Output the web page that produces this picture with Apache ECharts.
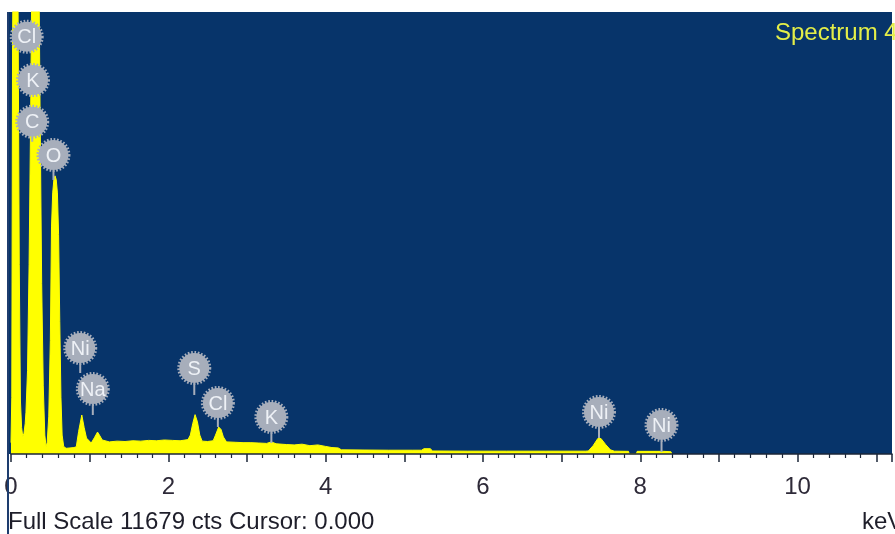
<!DOCTYPE html>
<html>
<head>
<meta charset="utf-8">
<script src="https://cdn.jsdelivr.net/npm/echarts@6/dist/echarts.min.js"></script>
<style>
  html, body { margin: 0; padding: 0; background: #ffffff; }
  #chart { width: 895px; height: 534px; }
</style>
</head>
<body>
<div id="chart"></div>
<script>
// EDS spectrum: energy (keV) and counts
const energyKeV = [
  0.00, 0.01, 0.02, 0.03, 0.045, 0.06, 0.075, 0.09, 0.105, 0.12, 0.135, 0.15, 0.165,
  0.18, 0.19, 0.21, 0.23, 0.25, 0.27, 0.29, 0.31, 0.33, 0.35, 0.37, 0.39, 0.41, 0.43, 0.446,
  0.46, 0.48, 0.50, 0.515, 0.53, 0.545, 0.56, 0.575, 0.59, 0.605, 0.62, 0.635, 0.65, 0.67,
  0.70, 0.75, 0.80, 0.83, 0.86, 0.90, 0.93, 0.96, 1.02, 1.06, 1.10, 1.13, 1.16, 1.25,
  1.35, 1.45, 1.55, 1.65, 1.75, 1.85, 1.95, 2.05, 2.15, 2.25,
  2.28, 2.31, 2.34, 2.37, 2.40, 2.43, 2.50, 2.57,
  2.60, 2.64, 2.67, 2.70, 2.74, 2.85, 2.95, 3.05, 3.15, 3.25, 3.31, 3.37,
  3.50, 3.60, 3.70, 3.80, 3.90, 4.00, 4.08, 4.16, 4.20, 4.50, 4.80, 5.10, 5.22, 5.25, 5.33, 5.36,
  5.80, 6.30, 6.80, 7.30, 7.34, 7.40, 7.46, 7.50, 7.56, 7.62, 7.67, 7.85, 7.86, 7.95, 7.96,
  8.30, 8.39, 8.40
];
const counts = [
  300, 1500, 11000, 13500, 16000, 17000, 15000, 11700, 5000, 1400, 700, 450, 550,
  800, 1100, 2200, 5000, 9000, 14000, 18000, 20000, 18000, 14000, 9000, 4500, 1800, 500, 190,
  300, 1000, 3000, 6000, 6900, 7250, 7350, 7250, 6900, 5800, 3500, 1500, 500, 200,
  150, 160, 170, 190, 600, 1030, 700, 420, 290, 430, 580, 480, 370, 320,
  340, 330, 350, 340, 360, 350, 370, 360, 350, 380,
  500, 800, 1040, 850, 500, 340, 330, 350,
  500, 713, 650, 450, 320, 310, 300, 300, 290, 280, 320, 270,
  250, 240, 260, 220, 240, 200, 170, 160, 110, 105, 100, 100, 100, 140, 140, 80,
  75, 75, 75, 75, 80, 220, 410, 410, 250, 110, 75, 70, 0, 0, 70,
  70, 60, 0
];

// Element line markers: energy, badge height and stem end (counts)
const markerNames = ['Cl', 'K', 'C', 'O', 'Ni', 'Na', 'S', 'Cl', 'K', 'Ni', 'Ni'];
const markerKeV = [0.20, 0.28, 0.27, 0.54, 0.88, 1.04, 2.33, 2.63, 3.31, 7.475, 8.27];
const markerBadgeCts = [11025, 9881, 8779, 7900, 2800, 1717, 2272, 1347, 978, 1110, 766];
const markerStemCts = [11025, 9881, 8250, 7240, 2140, 1030, 1559, 713, 290, 423, 53];

const xTickLabels = [0, 2, 4, 6, 8, 10];
const fullScaleCts = 11679;

const BG_BLUE = '#07346a';
const PEAK_YELLOW = '#ffff00';
const BADGE_GREY = '#a7aebb';
const FONT = 'Arial, "Liberation Sans", sans-serif';

const spectrum = energyKeV.map((e, i) => [e, counts[i]]);
const markers = markerKeV.map((e, i) => [e, markerBadgeCts[i], markerStemCts[i]]);

const chart = echarts.init(document.getElementById('chart'), null, { renderer: 'canvas' });

chart.setOption({
  backgroundColor: '#ffffff',
  animation: false,
  grid: {
    show: true,
    left: 11,
    top: 12,
    width: 896,
    height: 442,
    backgroundColor: BG_BLUE,
    borderWidth: 0
  },
  xAxis: {
    type: 'value',
    min: 0,
    max: 11.2,
    interval: 1,
    z: 5,
    axisLine: { show: true, onZero: false, lineStyle: { color: '#1b2638', width: 1.5 } },
    axisTick: { show: true, length: 8, lineStyle: { color: '#1b2638', width: 1.5 } },
    minorTick: { show: true, splitNumber: 5, length: 4, lineStyle: { color: '#1b2638', width: 1.2 } },
    splitLine: { show: false },
    axisLabel: {
      margin: 21,
      fontFamily: FONT,
      fontSize: 24,
      color: '#2e2a38',
      formatter: v => (xTickLabels.indexOf(v) >= 0 ? String(v) : '')
    }
  },
  yAxis: {
    type: 'value',
    min: 0,
    max: fullScaleCts,
    show: false
  },
  series: [
    {
      type: 'line',
      data: spectrum,
      showSymbol: false,
      smooth: false,
      clip: true,
      z: 2,
      lineStyle: { color: PEAK_YELLOW, width: 1 },
      areaStyle: { color: PEAK_YELLOW, opacity: 1 }
    },
    {
      type: 'custom',
      z: 10,
      data: markers,
      renderItem: function (params, api) {
        const c = api.coord([api.value(0), api.value(1)]);
        const s = api.coord([api.value(0), api.value(2)]);
        const r = 15;
        const children = [];
        if (s[1] > c[1] + r) {
          children.push({
            type: 'line',
            shape: { x1: c[0], y1: c[1] + r, x2: s[0], y2: s[1] },
            style: { stroke: BADGE_GREY, lineWidth: 2 }
          });
        }
        children.push({
          type: 'circle',
          shape: { cx: c[0], cy: c[1], r: r },
          style: { fill: BADGE_GREY, stroke: BADGE_GREY, lineWidth: 4, lineDash: [1.6, 1.6] }
        });
        children.push({
          type: 'text',
          x: c[0],
          y: c[1] + 1,
          style: {
            text: markerNames[params.dataIndex],
            fill: '#eef1f6',
            font: '20px ' + FONT,
            align: 'center',
            verticalAlign: 'middle'
          }
        });
        return { type: 'group', children: children };
      }
    }
  ],
  graphic: [
    { type: 'rect', left: 7, top: 12, shape: { width: 5, height: 442 }, style: { fill: BG_BLUE }, z: -1 },
    { type: 'rect', left: 7, top: 12, shape: { width: 2, height: 522 }, style: { fill: '#1d3c6e' }, z: 20 },
    {
      type: 'text', x: 775, y: 33, z: 20,
      style: {
        text: 'Spectrum 4', fill: '#e4ee48',
        font: '24px ' + FONT,
        verticalAlign: 'middle'
      }
    },
    {
      type: 'text', x: 8, y: 522, z: 20,
      style: {
        text: 'Full Scale 11679 cts Cursor: 0.000', fill: '#1e1e2a',
        font: '24px ' + FONT,
        verticalAlign: 'middle'
      }
    },
    {
      type: 'text', x: 862, y: 522, z: 20,
      style: {
        text: 'keV', fill: '#1e1e2a',
        font: '24px ' + FONT,
        verticalAlign: 'middle'
      }
    }
  ]
});
</script>
</body>
</html>
